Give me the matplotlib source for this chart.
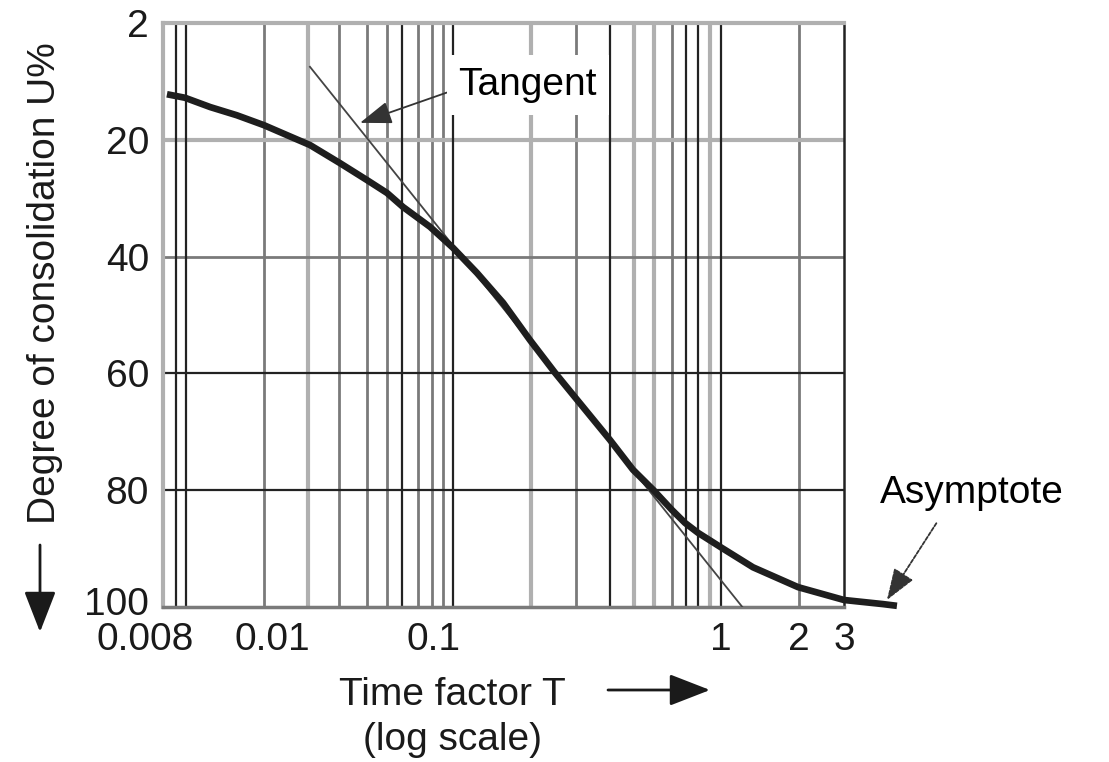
import numpy as np
import matplotlib
matplotlib.use('Agg')
import matplotlib.pyplot as plt
from matplotlib.transforms import ScaledTranslation

plt.rcParams['font.family'] = ['Liberation Sans', 'DejaVu Sans']

# the printed log paper is not a clean log scale: T -> position anchors
scale_T = [0.007, 0.008, 0.009, 0.01, 0.1, 1, 3, 10]
scale_pos = [163, 176, 186, 264, 453, 721, 844, 984]

# consolidation curve
curve_T = [0.00729, 0.00889, 0.0093, 0.00964, 0.01, 0.01323, 0.01752, 0.02525,
           0.03508, 0.04475, 0.05438, 0.07555, 0.1, 0.1229, 0.1537, 0.1938,
           0.2403, 0.2902, 0.3853, 0.4695, 0.5576, 0.6565, 0.7341, 0.8209,
           1.009, 1.331, 1.99, 3.0, 4.19, 4.73]
curve_U = [12.2, 12.8, 14.4, 15.8, 17.5, 19.2, 20.9, 24.0,
           26.9, 29.1, 31.5, 34.9, 38.5, 42.8, 47.9, 54.3,
           59.9, 64.5, 71.4, 76.5, 79.9, 83.4, 85.6, 87.3,
           89.9, 93.2, 96.6, 98.8, 99.5, 99.8]

# tangent line end points
tangent_T = [0.0175, 1.21]
tangent_U = [7.5, 100]

# grid lines of the paper
grid_black_T = [0.008, 0.009, 0.054, 0.1, 0.385, 0.741, 0.821, 1]
grid_dark_T = [0.01, 0.025, 0.035, 0.045, 0.065, 0.077, 0.089, 0.288, 0.656, 2]
grid_light_T = [0.017, 0.195, 0.474, 0.563, 0.91]
grid_black_U = [60, 80]
grid_dark_U = [40]
grid_light_U = [20]

xtick_T = [0.008, 0.01, 0.1, 1, 2, 3]
xtick_labels = ['0.008', '0.01', '0.1', '1', '2', '3']
ytick_U = [0, 20, 40, 60, 80, 100]
ytick_labels = ['2', '20', '40', '60', '80', '100']

log_anchor = np.log10(scale_T)


def fwd(t):
    t = np.clip(np.asarray(t, dtype=float), 1e-6, None)
    return np.interp(np.log10(t), log_anchor, scale_pos)


def inv(p):
    return 10 ** np.interp(np.asarray(p, dtype=float), scale_pos, log_anchor)


W, H = 1109, 762
fig = plt.figure(figsize=(W / 100, H / 100), dpi=100)
ax = fig.add_axes([163 / W, 1 - 607 / H, (844 - 163) / W, (607 - 23) / H])
ax.set_xscale('function', functions=(fwd, inv))
ax.set_xlim(0.007, 3)
ax.set_ylim(100, 0)

BLACK, DARK, LIGHT = '#222222', '#7a7a7a', '#b0b0b0'
for t in grid_light_T:
    ax.axvline(t, color=LIGHT, lw=3.0, zorder=1)
for t in grid_dark_T:
    ax.axvline(t, color=DARK, lw=2.0, zorder=1)
for t in grid_black_T:
    ax.axvline(t, color=BLACK, lw=1.6, zorder=2)
for u in grid_light_U:
    ax.axhline(u, color=LIGHT, lw=3.0, zorder=1)
for u in grid_dark_U:
    ax.axhline(u, color=DARK, lw=2.0, zorder=1)
for u in grid_black_U:
    ax.axhline(u, color=BLACK, lw=1.6, zorder=2)

ax.spines['left'].set_color(LIGHT)
ax.spines['left'].set_linewidth(3)
ax.spines['top'].set_color(LIGHT)
ax.spines['top'].set_linewidth(3)
ax.spines['bottom'].set_color(DARK)
ax.spines['bottom'].set_linewidth(2.5)
ax.spines['right'].set_color(BLACK)
ax.spines['right'].set_linewidth(1.8)

ax.plot(tangent_T, tangent_U, color='#444444', lw=1.3, zorder=4)
ax.plot(curve_T, curve_U, color='#1e1e1e', lw=4.8, zorder=5, clip_on=False,
        solid_capstyle='butt', solid_joinstyle='round')

fs = 28
ax.set_xticks(xtick_T)
ax.set_xticklabels(xtick_labels)
ax.xaxis.set_minor_locator(matplotlib.ticker.NullLocator())
ax.set_yticks(ytick_U)
ax.set_yticklabels(ytick_labels)
ax.tick_params(length=0, labelsize=fs, colors='#1a1a1a')
ax.tick_params(axis='x', pad=11)
ax.tick_params(axis='y', pad=10)
# printed labels sit a little off their lines
x_label_shift = [-0.31, 0.08, -0.19, 0, 0, 0]
for lab, dx in zip(ax.get_xticklabels(), x_label_shift):
    lab.set_transform(lab.get_transform() + ScaledTranslation(dx, 0, fig.dpi_scale_trans))
ylabs = ax.get_yticklabels()
ylabs[-1].set_transform(ylabs[-1].get_transform() + ScaledTranslation(0, 0.06, fig.dpi_scale_trans))

ax.annotate('Tangent', xy=(0.0322, 17.1), xytext=(0.19, 10.6),
            ha='center', va='center', fontsize=fs, zorder=6,
            bbox=dict(boxstyle='square,pad=0.3', fc='white', ec='none'),
            arrowprops=dict(arrowstyle='-|>,head_length=0.7,head_width=0.25',
                            color='#333333', lw=1.3, shrinkA=0, shrinkB=0,
                            relpos=(0, 0.4)))

ax.annotate('Asymptote', xy=(4.34, 98.8), xytext=(9.0, 80.5),
            ha='center', va='center', fontsize=fs, annotation_clip=False,
            arrowprops=dict(arrowstyle='-|>,head_length=0.7,head_width=0.25',
                            color='#333333', lw=1.3, ls=(0, (2, 1)),
                            shrinkA=8, shrinkB=0, relpos=(0.35, 0)))

fig.text(45 / W, 1 - 283 / H, 'Degree of consolidation U%', rotation=90,
         ha='center', va='center', fontsize=fs, color='#1a1a1a')
fig.text(452 / W, 1 - 695 / H, 'Time factor T', ha='center', va='center',
         fontsize=fs, color='#1a1a1a')
fig.text(452 / W, 1 - 740 / H, '(log scale)', ha='center', va='center',
         fontsize=fs, color='#1a1a1a')

arrow_style = dict(arrowstyle='-|>,head_length=0.9,head_width=0.35',
                   color='#1a1a1a', lw=2, shrinkA=0, shrinkB=0)
fig.add_artist(matplotlib.patches.FancyArrowPatch(
    (608 / W, 1 - 690 / H), (710 / W, 1 - 690 / H),
    transform=fig.transFigure, mutation_scale=28, **arrow_style))
fig.add_artist(matplotlib.patches.FancyArrowPatch(
    (40 / W, 1 - 545 / H), (40 / W, 1 - 632 / H),
    transform=fig.transFigure, mutation_scale=28, **arrow_style))

fig.savefig('out.png', dpi=100, facecolor='white')
